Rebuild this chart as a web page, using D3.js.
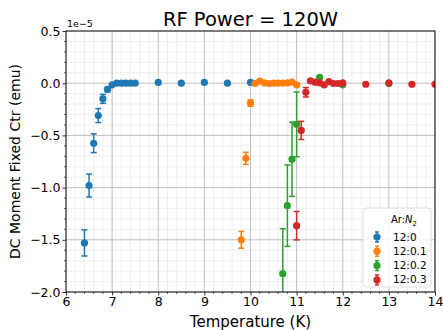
<!DOCTYPE html>
<html>
<head>
<meta charset="utf-8">
<script src="https://cdn.jsdelivr.net/npm/d3@7"></script>
<style>
  html, body { margin: 0; padding: 0; background: #fff; }
  svg { display: block; font-family: "DejaVu Sans", sans-serif; }
</style>
</head>
<body>
<svg id="chart" width="443" height="330"></svg>
<script>
// Temperatures (K), moments (×1e-5 emu) and error sizes per Ar:N2 ratio
const t0 = [6.4, 6.5, 6.6, 6.7, 6.8, 6.9, 7.0, 7.1, 7.2, 7.3, 7.4, 7.5, 8.0, 8.5, 9.0, 9.5, 10.0];
const m0 = [-1.53, -0.98, -0.575, -0.31, -0.15, -0.06, -0.016, 0.0, 0.0, 0.0, 0.0, 0.0, 0.007, 0.0, 0.007, 0.0, 0.007];
const e0 = [0.125, 0.11, 0.09, 0.067, 0.043, 0.02, 0.01, 0, 0, 0, 0, 0, 0, 0, 0, 0, 0];

const t1 = [9.8, 9.9, 10.0, 10.1, 10.2, 10.3, 10.4, 10.5, 10.6, 10.7, 10.8, 10.9, 11.0];
const m1 = [-1.50, -0.72, -0.19, -0.003, 0.02, 0.003, -0.003, 0.0, 0.0, 0.0, 0.003, 0.01, -0.016];
const e1 = [0.08, 0.058, 0.03, 0, 0, 0, 0, 0, 0, 0, 0, 0, 0.01];

const t2 = [10.7, 10.8, 10.9, 11.0, 11.5, 12.0, 13.0];
const m2 = [-1.824, -1.173, -0.728, -0.394, 0.055, -0.016, -0.003];
const e2 = [0.43, 0.39, 0.356, 0.31, 0.01, 0, 0];

const t3 = [11.0, 11.1, 11.2, 11.3, 11.4, 11.5, 11.6, 11.7, 11.8, 11.9, 12.0, 12.5, 13.0, 13.5, 14.0];
const m3 = [-1.365, -0.452, -0.087, 0.022, 0.01, 0.003, -0.016, 0.016, -0.003, -0.003, 0.003, -0.01, 0.003, -0.01, -0.01];
const e3 = [0.136, 0.087, 0.045, 0.01, 0, 0, 0, 0, 0, 0, 0, 0, 0, 0, 0];

const seriesNames = ["12:0", "12:0.1", "12:0.2", "12:0.3"];
const seriesColors = ["#1f77b4", "#ff7f0e", "#2ca02c", "#d62728"];

const xTicks = [6, 7, 8, 9, 10, 11, 12, 13, 14];
const yTicks = [0.5, 0.0, -0.5, -1.0, -1.5, -2.0];

const series = [
  { t: t0, m: m0, e: e0 },
  { t: t1, m: m1, e: e1 },
  { t: t2, m: m2, e: e2 },
  { t: t3, m: m3, e: e3 }
];

const svg = d3.select("#chart");
const margin = { left: 66, right: 8, top: 31, bottom: 38 };
const W = 443, H = 330;
const x = d3.scaleLinear().domain([6, 14]).range([margin.left, W - margin.right]);
const y = d3.scaleLinear().domain([-2.0, 0.5]).range([H - margin.bottom, margin.top]);

const clipId = "plotClip";
svg.append("defs").append("clipPath").attr("id", clipId)
  .append("rect")
  .attr("x", x(6)).attr("y", y(0.5))
  .attr("width", x(14) - x(6)).attr("height", y(-2.0) - y(0.5));

// minor grid
const xMinor = d3.range(6, 14.0001, 0.2).filter(v => Math.abs(v - Math.round(v)) > 1e-6);
const yMinor = d3.range(-2.0, 0.5001, 0.1).filter(v => Math.abs(v * 2 - Math.round(v * 2)) > 1e-6);
const grid = svg.append("g");
grid.selectAll(".gxm").data(xMinor).join("line")
  .attr("x1", d => x(d)).attr("x2", d => x(d))
  .attr("y1", y(0.5)).attr("y2", y(-2.0))
  .attr("stroke", "#e6e6e6").attr("stroke-width", 0.6);
grid.selectAll(".gym").data(yMinor).join("line")
  .attr("x1", x(6)).attr("x2", x(14))
  .attr("y1", d => y(d)).attr("y2", d => y(d))
  .attr("stroke", "#e6e6e6").attr("stroke-width", 0.6);
// major grid
grid.selectAll(".gx").data(xTicks).join("line")
  .attr("x1", d => x(d)).attr("x2", d => x(d))
  .attr("y1", y(0.5)).attr("y2", y(-2.0))
  .attr("stroke", "#b8b8b8").attr("stroke-width", 0.9);
grid.selectAll(".gy").data(yTicks).join("line")
  .attr("x1", x(6)).attr("x2", x(14))
  .attr("y1", d => y(d)).attr("y2", d => y(d))
  .attr("stroke", "#b8b8b8").attr("stroke-width", 0.9);

// data: error bars then markers
const plot = svg.append("g").attr("clip-path", `url(#${clipId})`);
series.forEach((s, i) => {
  const g = plot.append("g");
  const pts = s.t.map((t, k) => ({ t, m: s.m[k], e: s.e[k] }));
  const cap = 3;
  const withErr = pts.filter(d => d.e > 0);
  g.selectAll(".eb").data(withErr).join("line")
    .attr("x1", d => x(d.t)).attr("x2", d => x(d.t))
    .attr("y1", d => y(d.m - d.e)).attr("y2", d => y(d.m + d.e))
    .attr("stroke", seriesColors[i]).attr("stroke-width", 1.5);
  ["lo", "hi"].forEach(side => {
    g.selectAll(".cap" + side).data(withErr).join("line")
      .attr("x1", d => x(d.t) - cap).attr("x2", d => x(d.t) + cap)
      .attr("y1", d => y(side === "lo" ? d.m - d.e : d.m + d.e))
      .attr("y2", d => y(side === "lo" ? d.m - d.e : d.m + d.e))
      .attr("stroke", seriesColors[i]).attr("stroke-width", 1.5);
  });
  g.selectAll("circle").data(pts).join("circle")
    .attr("cx", d => x(d.t)).attr("cy", d => y(d.m))
    .attr("r", 3.6).attr("fill", seriesColors[i]);
});

// axes with major and minor ticks
const xAxis = svg.append("g").attr("transform", `translate(0,${y(-2.0)})`)
  .call(d3.axisBottom(x).tickValues(xTicks).tickFormat(d3.format("d")).tickSize(3.5).tickPadding(2));
const yAxis = svg.append("g").attr("transform", `translate(${x(6)},0)`)
  .call(d3.axisLeft(y).tickValues(yTicks).tickFormat(d => d3.format(".1f")(d).replace("-", "\u2212")).tickSize(3.5).tickPadding(2));
[xAxis, yAxis].forEach(a => {
  a.select(".domain").remove();
  a.selectAll("text").attr("font-size", 12.5).attr("fill", "#000").attr("font-family", "DejaVu Sans, sans-serif");
  a.selectAll("line").attr("stroke", "#000").attr("stroke-width", 0.8);
});
svg.append("g").selectAll("line").data(xMinor).join("line")
  .attr("x1", d => x(d)).attr("x2", d => x(d))
  .attr("y1", y(-2.0)).attr("y2", y(-2.0) + 2)
  .attr("stroke", "#000").attr("stroke-width", 0.6);
svg.append("g").selectAll("line").data(yMinor).join("line")
  .attr("x1", x(6) - 2).attr("x2", x(6))
  .attr("y1", d => y(d)).attr("y2", d => y(d))
  .attr("stroke", "#000").attr("stroke-width", 0.6);

// frame
svg.append("rect")
  .attr("x", x(6)).attr("y", y(0.5))
  .attr("width", x(14) - x(6)).attr("height", y(-2.0) - y(0.5))
  .attr("fill", "none").attr("stroke", "#000").attr("stroke-width", 0.9);

// offset text, title, axis labels
svg.append("text").attr("x", x(6) + 1).attr("y", y(0.5) - 4)
  .attr("font-size", 9.5).text("1e\u22125");
svg.append("text").attr("x", (x(6) + x(14)) / 2).attr("y", 26)
  .attr("text-anchor", "middle").attr("font-size", 19.5).text("RF Power = 120W");
svg.append("text").attr("x", (x(6) + x(14)) / 2).attr("y", 327)
  .attr("text-anchor", "middle").attr("font-size", 15).text("Temperature (K)");
svg.append("text")
  .attr("transform", `translate(20,${(y(0.5) + y(-2.0)) / 2}) rotate(-90)`)
  .attr("text-anchor", "middle").attr("font-size", 14).text("DC Moment Fixed Ctr (emu)");

// legend
const lg = svg.append("g").attr("transform", "translate(363,208)");
lg.append("rect").attr("width", 68).attr("height", 79).attr("rx", 3)
  .attr("fill", "#fff").attr("fill-opacity", 0.85)
  .attr("stroke", "#d5d5d5").attr("stroke-width", 0.8);
const lt = lg.append("text").attr("x", 41).attr("y", 15).attr("text-anchor", "middle").attr("font-size", 10);
lt.append("tspan").text("Ar:");
lt.append("tspan").attr("font-style", "italic").text("N");
lt.append("tspan").attr("font-size", 7).attr("dy", 2.5).text("2");
seriesNames.forEach((name, i) => {
  const cy = 29 + i * 14.3;
  const row = lg.append("g");
  row.append("line").attr("x1", 14).attr("x2", 14).attr("y1", cy - 5).attr("y2", cy + 5)
    .attr("stroke", seriesColors[i]).attr("stroke-width", 1.5);
  row.append("line").attr("x1", 12).attr("x2", 16).attr("y1", cy - 5).attr("y2", cy - 5)
    .attr("stroke", seriesColors[i]).attr("stroke-width", 1.5);
  row.append("line").attr("x1", 12).attr("x2", 16).attr("y1", cy + 5).attr("y2", cy + 5)
    .attr("stroke", seriesColors[i]).attr("stroke-width", 1.5);
  row.append("circle").attr("cx", 14).attr("cy", cy).attr("r", 3.6).attr("fill", seriesColors[i]);
  row.append("text").attr("x", 30).attr("y", cy + 3.5).attr("font-size", 10.5).text(name);
});
</script>
</body>
</html>
